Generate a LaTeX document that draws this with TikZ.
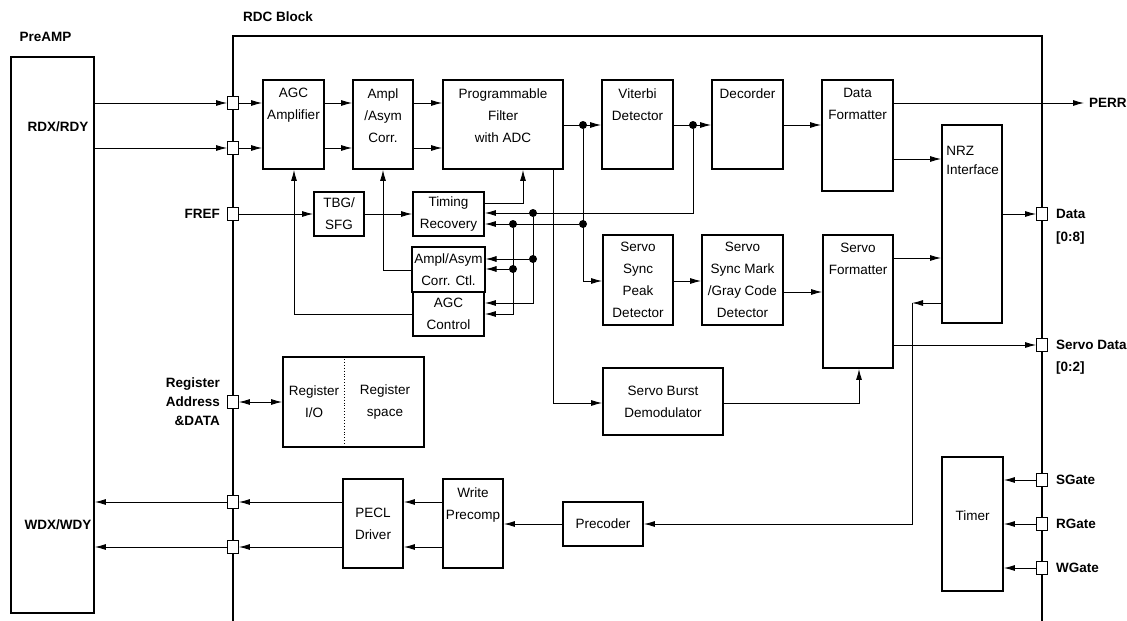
\documentclass[tikz,border=0pt]{standalone}
\usepackage{fontspec}
\setmainfont{Liberation Sans}
\usetikzlibrary{arrows.meta,positioning,calc}

\newcommand{\blkfont}{\fontsize{13.5}{22}\selectfont}
\newcommand{\pinfont}{\fontsize{13.5}{19}\selectfont\bfseries}

\tikzset{
  blk/.style={draw, line width=1.8pt, inner sep=2pt, align=center, font=\blkfont},
  blktext/.style={anchor=north, inner sep=0pt, yshift=-9pt, align=center, font=\blkfont},
  port/.style={draw, fill=white, line width=0.8pt, minimum width=11pt, minimum height=13pt, inner sep=0pt},
  wire/.style={line width=0.9pt},
  sig/.style={wire, -{Latex[length=11pt,width=6pt]}},
  jn/.style={circle, fill, inner sep=0pt, minimum size=8pt},
  pin/.style={font=\pinfont, inner sep=0pt},
}

\begin{document}
\begin{tikzpicture}[x=1pt,y=-1pt]
\useasboundingbox (0,0) rectangle (1127,621);

% RDC block, open at the bottom
\draw[line width=1.8pt] (233,621) -- (233,36) -- (1042,36) -- (1042,621);
\node[pin] (rdclbl) at (278,17) {RDC Block};

% PreAMP
\node[blk, minimum width=83, minimum height=556] (preamp) at (52.5,335) {};
\node[pin] (prelbl) at (45.5,37) {PreAMP};
\node[pin] (rdxlbl) at (58,127) {RDX/RDY};
\node[pin] (wdxlbl) at (58,525) {WDX/WDY};

% read channel
\node[blk, minimum width=61, minimum height=89, label={[blktext]north:AGC\\Amplifier}] (agc) at (293.5,124.5) {};
\node[blk, minimum width=60, minimum height=89, label={[blktext]north:Ampl\\/Asym\\Corr.}] (ampl) at (383,124.5) {};
\node[blk, minimum width=120, minimum height=89, label={[blktext]north:Programmable\\Filter\\with ADC}] (filt) at (503,124.5) {};
\node[blk, minimum width=71, minimum height=89, label={[blktext]north:Viterbi\\Detector}] (vit) at (637.5,124.5) {};
\node[blk, minimum width=71, minimum height=89, label={[blktext]north:Decorder}] (dec) at (747.5,124.5) {};
\node[blk, minimum width=71, minimum height=111, label={[blktext]north:Data\\Formatter}] (dfmt) at (857.5,135.5) {};
\node[blk, minimum width=60, minimum height=198, label={[blktext, anchor=north west, align=left, xshift=5pt, yshift=-13pt, font=\fontsize{13.5}{19}\selectfont]north west:NRZ\\Interface}] (nrz) at (972,224) {};

% clock and gain loops
\node[blk, minimum width=50, minimum height=44] (tbg) at (339,214) {TBG/\\SFG};
\node[blk, minimum width=71, minimum height=44] (tim) at (448.5,214) {Timing\\Recovery};
\node[blk, minimum width=71, minimum height=45] (actl) at (448.5,269.5) {Ampl/Asym\\Corr. Ctl.};
\node[blk, minimum width=71, minimum height=44] (agcc) at (448.5,314) {AGC\\Control};

% servo
\node[blk, minimum width=70, minimum height=90] (ssp) at (638,280) {Servo\\Sync\\Peak\\Detector};
\node[blk, minimum width=81, minimum height=90] (ssm) at (742.5,280) {Servo\\Sync Mark\\/Gray Code\\Detector};
\node[blk, minimum width=70, minimum height=133, label={[blktext]north:Servo\\Formatter}] (sfmt) at (858,301.5) {};
\node[blk, minimum width=120, minimum height=67] (sbd) at (663,401.5) {Servo Burst\\Demodulator};

% registers
\node[blk, minimum width=141, minimum height=90] (reg) at (353.5,402) {};
\coordinate (regdiv) at (344,402);
\draw[dotted, line width=0.9pt] (reg.north -| regdiv) -- (reg.south -| regdiv);
\node[font=\blkfont, align=center, inner sep=0pt] (regio) at (314,402) {Register\\I/O};
\node[font=\blkfont, align=center, inner sep=0pt] (regsp) at (385,402) {Register\\space};

% write path
\node[blk, minimum width=60, minimum height=89] (pecl) at (373,523.5) {PECL\\Driver};
\node[blk, minimum width=60, minimum height=89, label={[blktext]north:Write\\Precomp}] (wpc) at (473,523.5) {};
\node[blk, minimum width=80, minimum height=44] (prec) at (603,524) {Precoder};
\node[blk, minimum width=61, minimum height=134, label={[font=\blkfont, yshift=8pt]center:Timer}] (timer) at (972.5,524) {};

% ports
\node[port] (pRa) at (233,103) {};
\node[port] (pRb) at (233,148) {};
\node[port] (pFref) at (233,214) {};
\node[port] (pReg) at (233,402) {};
\node[port] (pWa) at (233,502) {};
\node[port] (pWb) at (233,547) {};
\node[port] (pData) at (1042,214) {};
\node[port] (pSrv) at (1042,345) {};
\node[port] (pSg) at (1042,480) {};
\node[port] (pRg) at (1042,524) {};
\node[port] (pWg) at (1042,568) {};

\node[pin, anchor=east] (freflbl) at ([xshift=-7pt]pFref.west) {FREF};
\node[pin, anchor=east, align=right] (reglbl) at ([xshift=-7pt]pReg.west) {Register\\Address\\\&DATA};
\node[pin, anchor=west] (datalbl) at ([xshift=8pt]pData.east) {Data};
\node[pin, anchor=west] (databus) at ([xshift=8pt,yshift=-24pt]pData.east) {[0:8]};
\node[pin, anchor=west] (srvlbl) at ([xshift=8pt]pSrv.east) {Servo Data};
\node[pin, anchor=west] (srvbus) at ([xshift=8pt,yshift=-23pt]pSrv.east) {[0:2]};
\node[pin, anchor=west] (sglbl) at ([xshift=8pt]pSg.east) {SGate};
\node[pin, anchor=west] (rglbl) at ([xshift=8pt]pRg.east) {RGate};
\node[pin, anchor=west] (wglbl) at ([xshift=8pt]pWg.east) {WGate};

% read signal path
\draw[sig] (preamp.east |- pRa) -- (pRa.west);
\draw[sig] (preamp.east |- pRb) -- (pRb.west);
\draw[sig] (pRa.east) -- (agc.west |- pRa);
\draw[sig] (pRb.east) -- (agc.west |- pRb);
\draw[sig] (agc.east |- pRa) -- (ampl.west |- pRa);
\draw[sig] (agc.east |- pRb) -- (ampl.west |- pRb);
\draw[sig] (ampl.east |- pRa) -- (filt.west |- pRa);
\draw[sig] (ampl.east |- pRb) -- (filt.west |- pRb);

\node[jn] (j1) at (583,125) {};
\node[jn] (j2) at (693,125) {};
\draw[sig] (filt.east |- j1) -- (vit.west |- j1);
\draw[sig] (vit.east |- j2) -- (dec.west |- j2);
\draw[sig] (dec.east |- j2) -- (dfmt.west |- j2);

\coordinate (perr) at (1084,103);
\draw[sig] (dfmt.east |- perr) -- (perr);
\node[pin, anchor=west] (perrlbl) at (1089,103) {PERR};
\draw[sig] (dfmt.east |- 0,159) -- (nrz.west |- 0,159);
\draw[sig] (nrz.east |- pData) -- (pData.west);

% timing and gain feedback
\node[jn] (j3) at (583,224) {};
\node[jn] (j4) at (533,213) {};
\node[jn] (j5) at (513,224) {};
\node[jn] (j6) at (533,259) {};
\node[jn] (j7) at (513,269) {};
\draw[sig] (pFref.east) -- (tbg.west |- pFref);
\draw[sig] (tbg.east |- pFref) -- (tim.west |- pFref);
\draw[sig] (j2) -- (j2 |- j4) -- (tim.east |- j4);
\draw[sig] (j3) -- (tim.east |- j3);
\draw[sig] (j4) -- (j4 |- 0,303) -- (agcc.east |- 0,303);
\draw[sig] (j5) -- (j5 |- 0,314) -- (agcc.east |- 0,314);
\draw[sig] (j6) -- (actl.east |- j6);
\draw[sig] (j7) -- (actl.east |- j7);

\coordinate (tf) at (523,203);
\draw[sig] (tim.east |- tf) -- (tf) -- (tf |- filt.south);
\coordinate (aa) at (383,270);
\draw[sig] (actl.west |- aa) -- (aa) -- (aa |- ampl.south);
\coordinate (ag) at (294,314);
\draw[sig] (agcc.west |- ag) -- (ag) -- (ag |- agc.south);

% servo path
\draw[sig] (j1) -- (j1 |- 0,281) -- (ssp.west |- 0,281);
\draw[sig] (ssp.east |- 0,281) -- (ssm.west |- 0,281);
\draw[sig] (ssm.east |- 0,292) -- (sfmt.west |- 0,292);
\draw[sig] (sfmt.east |- 0,258) -- (nrz.west |- 0,258);
\draw[sig] (sfmt.east |- pSrv) -- (pSrv.west);
\coordinate (fs) at (553,403);
\draw[sig] (filt.south -| fs) -- (fs) -- (sbd.west |- fs);
\coordinate (sb) at (859,403);
\draw[sig] (sbd.east |- sb) -- (sb) -- (sb |- sfmt.south);

% register access
\draw[wire, {Latex[length=11pt,width=6pt]}-{Latex[length=11pt,width=6pt]}] (pReg.east) -- (reg.west);

% write path
\coordinate (fb) at (912,303);
\draw[sig] (nrz.west |- fb) -- (fb);
\draw[sig] (fb) -- (fb |- prec) -- (prec.east);
\draw[sig] (prec.west) -- (wpc.east |- prec);
\draw[sig] (wpc.west |- pWa) -- (pecl.east |- pWa);
\draw[sig] (wpc.west |- pWb) -- (pecl.east |- pWb);
\draw[sig] (pecl.west |- pWa) -- (pWa.east);
\draw[sig] (pecl.west |- pWb) -- (pWb.east);
\draw[sig] (pWa.west) -- (preamp.east |- pWa);
\draw[sig] (pWb.west) -- (preamp.east |- pWb);

% gates
\draw[sig] (pSg.west) -- (timer.east |- pSg);
\draw[sig] (pRg.west) -- (timer.east |- pRg);
\draw[sig] (pWg.west) -- (timer.east |- pWg);

\end{tikzpicture}
\end{document}
